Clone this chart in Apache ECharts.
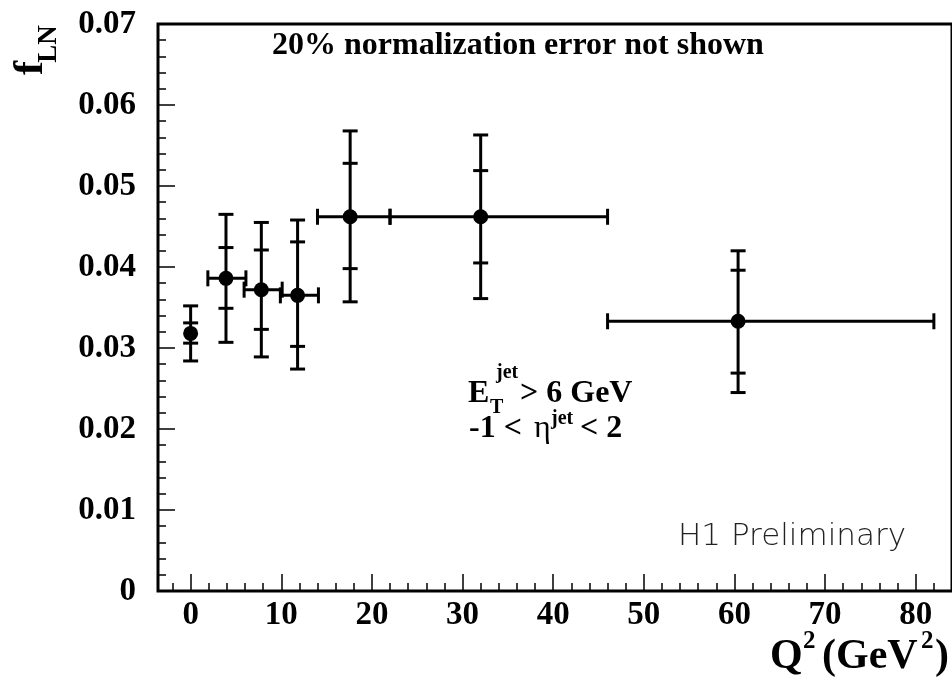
<!DOCTYPE html>
<html>
<head>
<meta charset="utf-8">
<script src="https://cdn.jsdelivr.net/npm/echarts@6/dist/echarts.min.js"></script>
<style>
html, body { margin: 0; padding: 0; background: #fff; }
#chart { width: 952px; height: 682px; }
</style>
</head>
<body>
<div id="chart"></div>
<script>
// f_LN vs Q^2 (H1 preliminary)
var q2     = [0, 3.9, 7.8, 11.8, 17.6, 32.0, 60.4];
var q2Lo   = [0, 1.9, 5.9, 9.9, 14.0, 22.0, 46.0];
var q2Hi   = [0, 6.1, 10.1, 14.1, 22.0, 46.0, 82.0];
var fLN    = [0.0318, 0.0386, 0.0372, 0.0365, 0.0462, 0.0462, 0.0333];
var statLo = [0.0306, 0.0349, 0.0323, 0.0302, 0.0398, 0.0405, 0.0269];
var statHi = [0.0331, 0.0424, 0.0421, 0.0431, 0.0528, 0.0519, 0.0396];
var totLo  = [0.0284, 0.0307, 0.0289, 0.0274, 0.0357, 0.0361, 0.0245];
var totHi  = [0.0352, 0.0465, 0.0455, 0.0458, 0.0568, 0.0563, 0.0420];

var xMajorTicks = [0, 10, 20, 30, 40, 50, 60, 70, 80];
var xMinorTicks = [-2, 2, 4, 6, 8, 12, 14, 16, 18, 22, 24, 26, 28, 32, 34, 36, 38,
                   42, 44, 46, 48, 52, 54, 56, 58, 62, 64, 66, 68, 72, 74, 76, 78, 82];

var serif = '"Liberation Serif", "Times New Roman", serif';
var black = '#000';

function seg(x1, y1, x2, y2) {
    return { type: 'line', shape: { x1: x1, y1: y1, x2: x2, y2: y2 },
             style: { stroke: black, lineWidth: 3 } };
}

function renderErr(params, api) {
    var i = params.dataIndex;
    var c = api.coord([q2[i], fLN[i]]);
    var yTop = api.coord([q2[i], totHi[i]])[1];
    var yBot = api.coord([q2[i], totLo[i]])[1];
    var ySHi = api.coord([q2[i], statHi[i]])[1];
    var ySLo = api.coord([q2[i], statLo[i]])[1];
    var cap = 7.5, hcap = 8;
    var kids = [
        seg(c[0], yTop, c[0], yBot),
        seg(c[0] - cap, yTop, c[0] + cap, yTop),
        seg(c[0] - cap, yBot, c[0] + cap, yBot),
        seg(c[0] - cap, ySHi, c[0] + cap, ySHi),
        seg(c[0] - cap, ySLo, c[0] + cap, ySLo)
    ];
    if (q2Hi[i] > q2Lo[i]) {
        var xl = api.coord([q2Lo[i], fLN[i]])[0];
        var xr = api.coord([q2Hi[i], fLN[i]])[0];
        kids.push(seg(xl, c[1], xr, c[1]));
        kids.push(seg(xl, c[1] - hcap, xl, c[1] + hcap));
        kids.push(seg(xr, c[1] - hcap, xr, c[1] + hcap));
    }
    return { type: 'group', children: kids };
}

function txt(x, y, text, size, opts) {
    opts = opts || {};
    return {
        type: 'text', x: x, y: y, rotation: opts.rot || 0, z: 100,
        style: {
            text: text, fill: opts.color || black,
            font: (opts.weight || 'bold') + ' ' + size + 'px ' + (opts.family || serif),
            align: opts.align || 'left', verticalAlign: 'middle'
        }
    };
}

var chart = echarts.init(document.getElementById('chart'));
chart.setOption({
    animation: false,
    backgroundColor: '#fff',
    grid: { left: 158, top: 24, bottom: 91, right: -14, show: true,
            borderWidth: 3, borderColor: black, backgroundColor: 'transparent' },
    xAxis: [{
        type: 'value', min: -3.6, max: 84,
        axisLine: { show: false, onZero: false },
        splitLine: { show: false },
        axisTick: { show: true, inside: true, length: 17, customValues: xMajorTicks,
                    lineStyle: { color: black, width: 1.5 } },
        axisLabel: { customValues: xMajorTicks, margin: 8, color: black,
                     fontFamily: serif, fontWeight: 'bold', fontSize: 33 }
    }, {
        type: 'value', min: -3.6, max: 84, position: 'bottom',
        axisLine: { show: false, onZero: false },
        splitLine: { show: false },
        axisLabel: { show: false },
        axisTick: { show: true, inside: true, length: 8, customValues: xMinorTicks,
                    lineStyle: { color: black, width: 1.5 } }
    }],
    yAxis: {
        type: 'value', min: 0, max: 0.07, interval: 0.01,
        axisLine: { show: false, onZero: false },
        splitLine: { show: false },
        axisTick: { show: true, inside: true, length: 17, lineStyle: { color: black, width: 1.5 } },
        minorTick: { show: true, splitNumber: 5, length: 8, lineStyle: { color: black, width: 1.5 } },
        axisLabel: {
            margin: 22, color: black, fontFamily: serif, fontWeight: 'bold', fontSize: 33,
            formatter: function (v) { return v === 0 ? '0' : v.toFixed(2); }
        }
    },
    series: [{
        type: 'custom', xAxisIndex: 0, renderItem: renderErr, clip: false,
        data: q2.map(function (v, i) { return [v, fLN[i]]; }),
        encode: { x: 0, y: 1 }, z: 2
    }, {
        type: 'scatter', xAxisIndex: 0, symbol: 'circle', symbolSize: 15,
        itemStyle: { color: black, opacity: 1 },
        data: q2.map(function (v, i) { return [v, fLN[i]]; }), z: 3
    }],
    graphic: [
        txt(272, 46, '20% normalization error not shown', 32),
        // E_T^jet > 6 GeV
        txt(468, 394, 'E', 32),
        txt(496, 373, 'jet', 20),
        txt(490, 408, 'T', 20),
        txt(520, 394, '> 6 GeV', 32),
        // -1 < eta^jet < 2
        txt(469, 429, '-1 <', 32),
        txt(534, 429, 'η', 32, { weight: 'normal' }),
        txt(551, 419, 'jet', 20),
        txt(580, 429, '< 2', 32),
        // axis titles
        txt(31, 68, 'f', 42, { rot: Math.PI / 2, align: 'center' }),
        txt(49, 44, 'LN', 27, { rot: Math.PI / 2, align: 'center' }),
        txt(770, 657, 'Q', 42),
        txt(803, 642, '2', 25),
        txt(822, 657, '(GeV', 42),
        txt(921, 642, '2', 25),
        txt(935, 657, ')', 42),
        txt(906, 537, 'H1 Preliminary', 31,
            { weight: 200, family: '"DejaVu Sans", sans-serif', align: 'right', color: '#222' })
    ]
});
</script>
</body>
</html>
